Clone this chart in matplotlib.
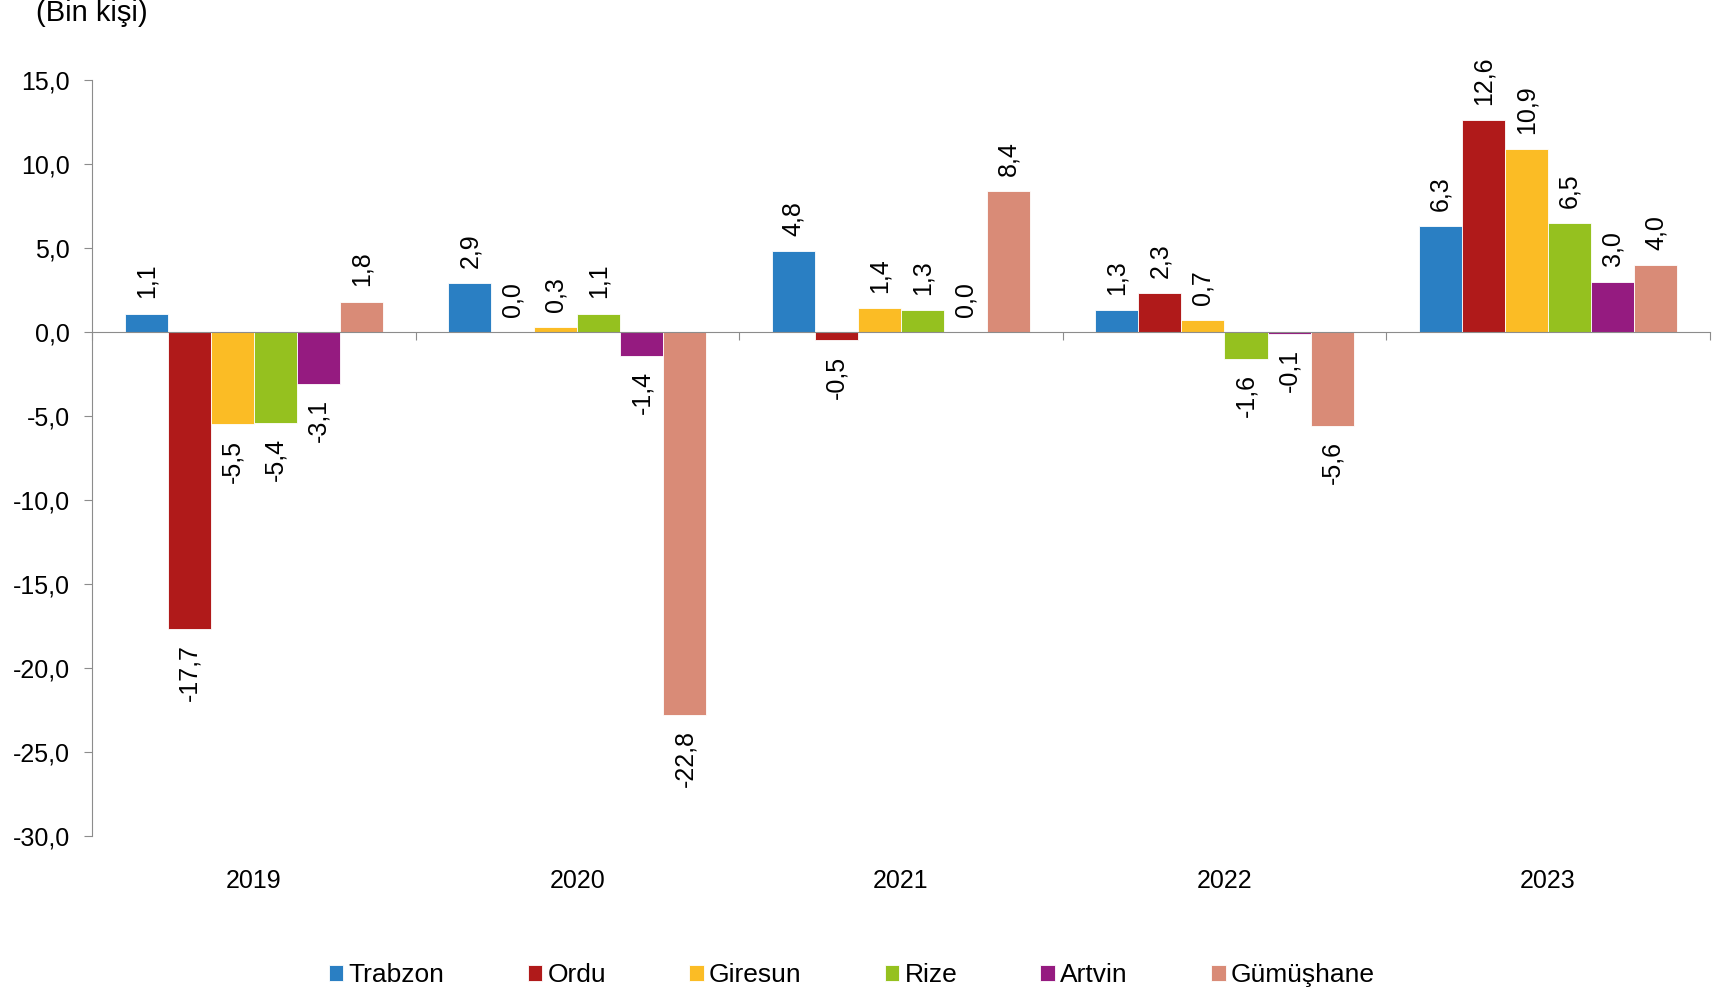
import numpy as np
import matplotlib.pyplot as plt
from matplotlib import transforms

plt.rcParams['font.family'] = ['Liberation Sans', 'DejaVu Sans']

# ============================================
# Data
# ============================================

years = ["2019", "2020", "2021", "2022", "2023"]
provinces = ["Trabzon", "Ordu", "Giresun", "Rize", "Artvin", "Gümüşhane"]

trabzon = [1.1, 2.9, 4.8, 1.3, 6.3]
ordu = [-17.7, 0.0, -0.5, 2.3, 12.6]
giresun = [-5.5, 0.3, 1.4, 0.7, 10.9]
rize = [-5.4, 1.1, 1.3, -1.6, 6.5]
artvin = [-3.1, -1.4, 0.0, -0.1, 3.0]
gumushane = [1.8, -22.8, 8.4, -5.6, 4.0]

series = [trabzon, ordu, giresun, rize, artvin, gumushane]
colors = ["#2A7FC3", "#B01A1A", "#FBBC25", "#95C11F", "#951B80", "#D98B77"]

# ============================================
# Plot
# ============================================

fig = plt.figure(figsize=(17.21, 9.94), dpi=100)
ax = fig.add_axes([0.0535, 0.159, 0.94, 0.7605])

x = np.arange(len(years))
width = 0.133
n = len(series)

for i, (vals, col, name) in enumerate(zip(series, colors, provinces)):
    pos = x + (i - (n - 1) / 2) * width
    ax.bar(pos, vals, width=width, color=col, label=name,
           edgecolor="white", linewidth=0.6, zorder=2)
    for xp, v in zip(pos, vals):
        txt = f"{v:.1f}".replace(".", ",")
        if v >= 0:
            ax.annotate(txt, (xp, v), xytext=(0, 11), textcoords="offset points",
                        rotation=90, ha="center", va="bottom", fontsize=18)
        else:
            ax.annotate(txt, (xp, v), xytext=(0, -11), textcoords="offset points",
                        rotation=90, ha="center", va="top", fontsize=18)

ax.set_xlim(-0.5, len(years) - 0.5)
ax.set_ylim(-30, 15)
ticks = np.arange(-30, 16, 5)
ax.set_yticks(ticks)
ax.set_yticklabels([f"{t:.1f}".replace(".", ",") for t in ticks], fontsize=18)

for s in ["top", "right"]:
    ax.spines[s].set_visible(False)
ax.spines["bottom"].set_position(("data", 0))
ax.spines["bottom"].set_color("#8C8C8C")
ax.spines["left"].set_color("#8C8C8C")
ax.spines["bottom"].set_zorder(3)

ax.set_xticks(np.arange(-0.5, len(years), 1))
ax.set_xticklabels([])
ax.tick_params(axis="x", direction="out", length=6, color="#8C8C8C")
ax.tick_params(axis="y", direction="out", length=6, color="#8C8C8C", pad=10)

trans = transforms.blended_transform_factory(ax.transData, ax.transAxes)
for xi, yr in zip(x, years):
    ax.text(xi, -0.0595, yr, transform=trans, ha="center", va="center", fontsize=18)

fig.text(0.021, 0.987, "(Bin kişi)", ha="left", va="center", fontsize=21)

fig.legend(loc="center", bbox_to_anchor=(0.495, 0.019), ncol=6, frameon=False,
           fontsize=19, handlelength=0.55, handleheight=0.55, handletextpad=0.2,
           columnspacing=3.15, borderaxespad=0, borderpad=0)

plt.savefig("out.png")
